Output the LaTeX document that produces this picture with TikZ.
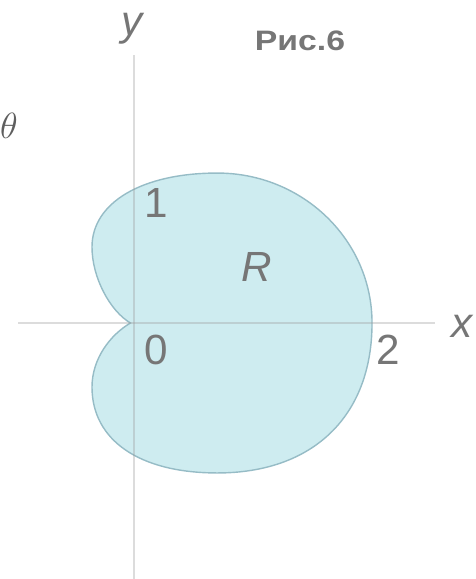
\documentclass[tikz,border=0pt]{standalone}
\usepackage{fontspec}
\setmainfont{Liberation Sans}
\newfontfamily\capfont[FakeStretch=1.2]{Liberation Sans}
\usepackage{tikz}
\usetikzlibrary{positioning}
\definecolor{fillcyan}{RGB}{206,236,240}
\definecolor{edgeblue}{RGB}{150,188,198}
\definecolor{axisgray}{RGB}{155,155,155}
\definecolor{labelgray}{RGB}{118,118,118}

\begin{document}
\begin{tikzpicture}[x=2.38cm, y=2.38cm,
    region/.style={fill=fillcyan, draw=edgeblue, line width=0.8pt},
    axis/.style={draw=axisgray, draw opacity=0.35, line width=1pt},
    axlabel/.style={font=\fontsize{24}{28}\selectfont\itshape, text=labelgray, inner sep=0pt},
    ticklabel/.style={font=\fontsize{24}{28}\selectfont, text=labelgray, inner sep=0pt},
    caption/.style={font=\capfont\fontsize{16}{19}\selectfont\bfseries, text=labelgray, inner sep=0pt}
]
\useasboundingbox (-1.126,-2.151) rectangle (2.866,2.714);

% region R
\draw[region] (-0.03,0) .. controls (-0.2,0.1) and (-0.353,0.38) .. (-0.353,0.639)
  .. controls (-0.353,1.012) and (0.068,1.26) .. (0.7,1.26)
  .. controls (1.418,1.26) and (2,0.696) .. (2,0)
  .. controls (2,-0.781) and (1.506,-1.26) .. (0.7,-1.26)
  .. controls (0.047,-1.26) and (-0.353,-0.986) .. (-0.353,-0.538)
  .. controls (-0.353,-0.3) and (-0.2,-0.1) .. (-0.03,0) -- cycle;

% axes
\coordinate (xstart) at (-0.975,0);
\coordinate (xend) at (2.529,0);
\coordinate (ystart) at (0,-2.151);
\coordinate (yend) at (0,2.252);
\draw[axis] (xstart) -- (xend);
\draw[axis] (ystart) -- (yend);

% labels
\node[axlabel] (ylabel) at (-0.017,2.471) {y};
\node[axlabel] (xlabel) at (2.756,-0.025) {x};
\node[axlabel] (rlabel) at (1.034,0.471) {R};
\node[ticklabel] (one) at (0.185,1.008) {1};
\node[ticklabel] (zero) at (0.185,-0.227) {0};
\node[ticklabel] (two) at (2.134,-0.227) {2};
\node[caption] (fig) at (1.395,2.370) {Рис.6};
\node[font=\fontsize{20}{24}\selectfont, text=labelgray!80!black, inner sep=0pt] (theta) at (-1.05,1.655) {$\theta$};

\end{tikzpicture}
\end{document}
